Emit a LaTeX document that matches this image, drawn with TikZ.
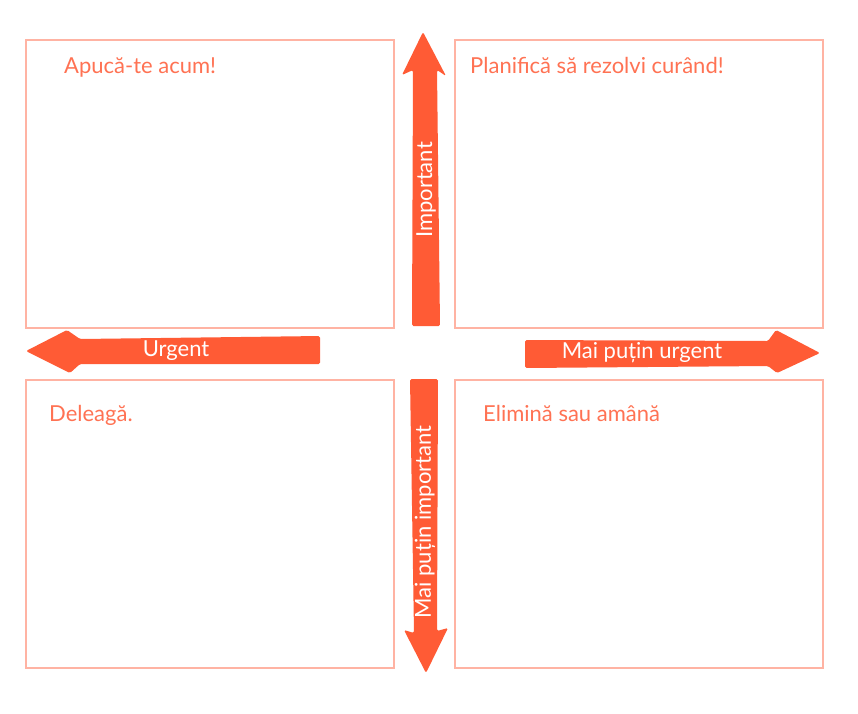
\documentclass[tikz,border=0pt]{standalone}
\usepackage{fontspec}
\setmainfont{Lato}
\usetikzlibrary{positioning}
\definecolor{axisorange}{HTML}{FF5B35}
\definecolor{quadline}{HTML}{FFB3A3}
\definecolor{quadtext}{HTML}{FF7253}

\begin{document}
\begin{tikzpicture}[
  x=1pt, y=-1pt,
  quad/.style     ={rectangle, draw=quadline, line width=2pt,
                    minimum width=368pt, minimum height=288pt, inner sep=0pt},
  quadtitle/.style={anchor=base west, text=quadtext, inner sep=0pt,
                    font=\fontsize{22}{26}\selectfont},
  axis/.style     ={fill=axisorange, rounded corners=1.5pt},
  axislabel/.style={text=white, inner sep=0pt,
                    font=\fontsize{22}{26}\selectfont}
]
\useasboundingbox (0,0) rectangle (858,713);

% ---------- Quadrants ----------
\node[quad] (qdo)    at (210,184) {};
\node[quad] (qplan)  at (639,184) {};
\node[quad] (qdel)   at (210,524) {};
\node[quad] (qdrop)  at (639,524) {};

\node[quadtitle] (tdo)   at (64,73)   {Apucă-te acum!};
\node[quadtitle] (tplan) at (470,73)  {Planifică să rezolvi curând!};
\node[quadtitle] (tdel)  at (49,421)  {Deleagă.};
\node[quadtitle] (tdrop) at (483,421) {Elimină sau amână};

% ---------- Axes ----------
\fill[axis] (412,326) -- (413,70) -- (402,75) -- (423,32) -- (446,76)
            -- (437,70) -- (440,326) -- cycle;
\fill[axis] (410,379) -- (438,379) -- (437,631) -- (448,628) -- (426,673)
            -- (404,630) -- (414,633) -- cycle;
\fill[axis] (320,336) -- (80,339) -- (67,330) -- (26,351) -- (70,373)
            -- (80,364) -- (320,364) -- cycle;
\fill[axis] (525,340) -- (768,341) -- (776,330) -- (820,353) -- (777,373)
            -- (768,366) -- (525,368) -- cycle;

\node[axislabel, rotate=90] (limp)  at (426,190) {Important};
\node[axislabel, rotate=90] (lless) at (425,522) {Mai puțin important};
\node[axislabel]            (lurg)  at (176,351) {Urgent};
\node[axislabel]            (lnurg) at (642,353) {Mai puțin urgent};

\end{tikzpicture}
\end{document}
